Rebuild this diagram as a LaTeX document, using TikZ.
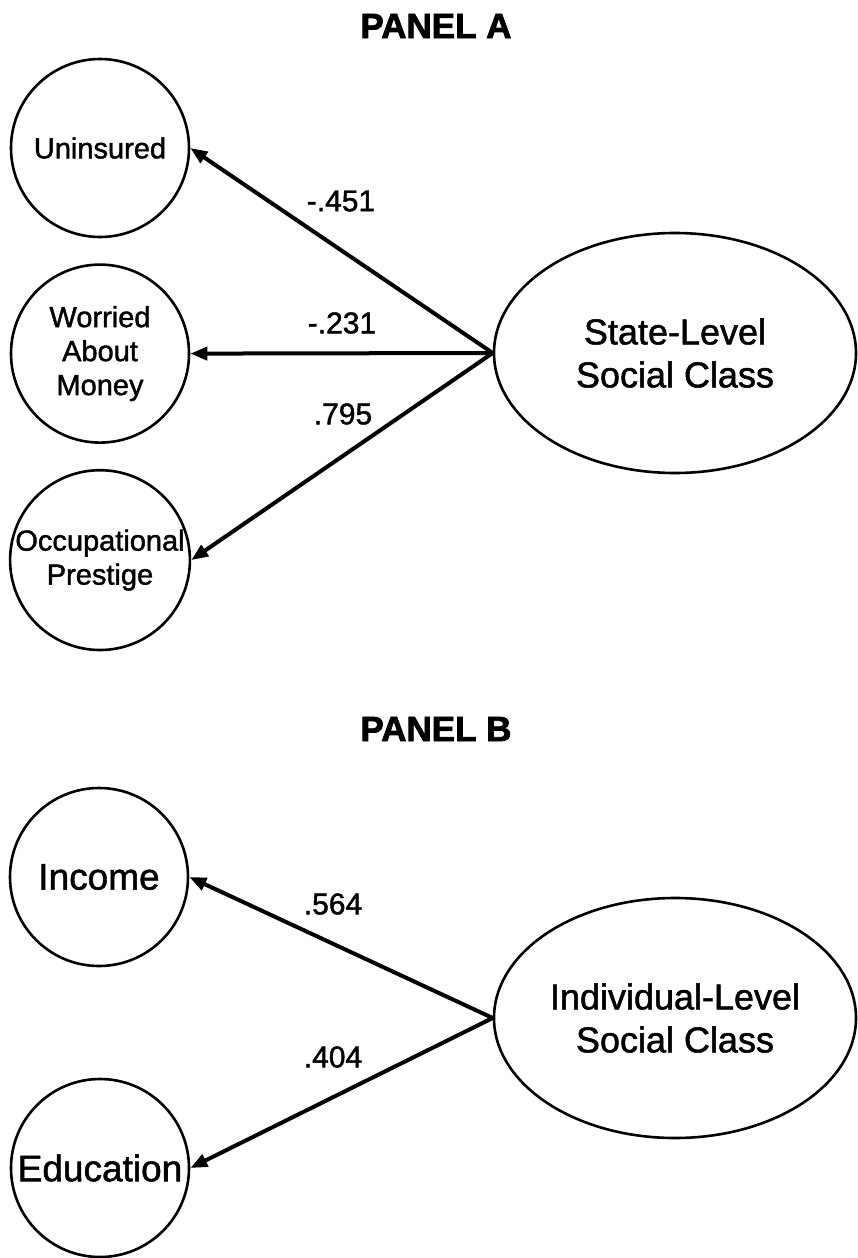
\documentclass[tikz,border=0pt]{standalone}
\usepackage{fontspec}
\setmainfont{Liberation Sans}[FakeBold=1.4]
\usepackage{tikz}
\usetikzlibrary{arrows.meta, positioning, shapes.geometric}
\definecolor{ink}{HTML}{000000}
\newfontfamily\heavy{Liberation Sans}[FakeBold=2.2]
\tikzset{
  obs/.style={circle, draw=ink, line width=2.6pt, minimum size=178pt, inner sep=0pt,
              align=center, font=\fontsize{29}{34}\selectfont, text=ink},
  obsb/.style={obs, font=\fontsize{37}{42}\selectfont},
  lat/.style={ellipse, draw=ink, line width=2.6pt, minimum width=362pt, minimum height=240pt,
              inner sep=0pt, align=center, font=\fontsize{36}{43}\selectfont, text=ink},
  ttl/.style={font=\fontsize{35}{40}\selectfont\heavy\bfseries, text=ink},
  wt/.style={font=\fontsize{30}{36}\selectfont, text=ink},
  ld/.style={-{Triangle[length=17pt, width=13pt]}, line width=4pt, draw=ink},
}
\begin{document}
\begin{tikzpicture}[x=1pt, y=-1pt, node distance=25pt]
    \useasboundingbox (0,0) rectangle (858,1258);
    % panel A
    \node[ttl] (ta) at (436,26) {PANEL A};
    \node[obs] (un) at (100,148) {Uninsured};
    \node[obs, below=of un] (wo) {Worried\\About\\Money};
    \node[obs, below=of wo] (oc) {Occupational\\Prestige};
    \node[lat] (st) at (675,353) {State-Level\\Social Class};
    \draw[ld] (st.west) -- (un.east); \draw[ld] (st.west) -- (wo.east); \draw[ld] (st.west) -- (oc.east);
    \node[wt] (wa) at (341,201) {-.451};
    \node[wt] (wb) at (342,323) {-.231};
    \node[wt] (wc) at (343,414) {.795};
    % panel B
    \node[ttl] (tb) at (436,729) {PANEL B};
    \node[obsb] (inc) at (99,877) {Income};
    \node[obsb] (edu) at (100,1168) {Education};
    \node[lat] (ind) at (675,1018) {Individual-Level\\Social Class};
    \draw[ld] (ind.west) -- (inc.east); \draw[ld] (ind.west) -- (edu.east);
    \node[wt] (wd) at (333,904) {.564};
    \node[wt] (we) at (333,1057) {.404};
  \end{tikzpicture}
\end{document}
